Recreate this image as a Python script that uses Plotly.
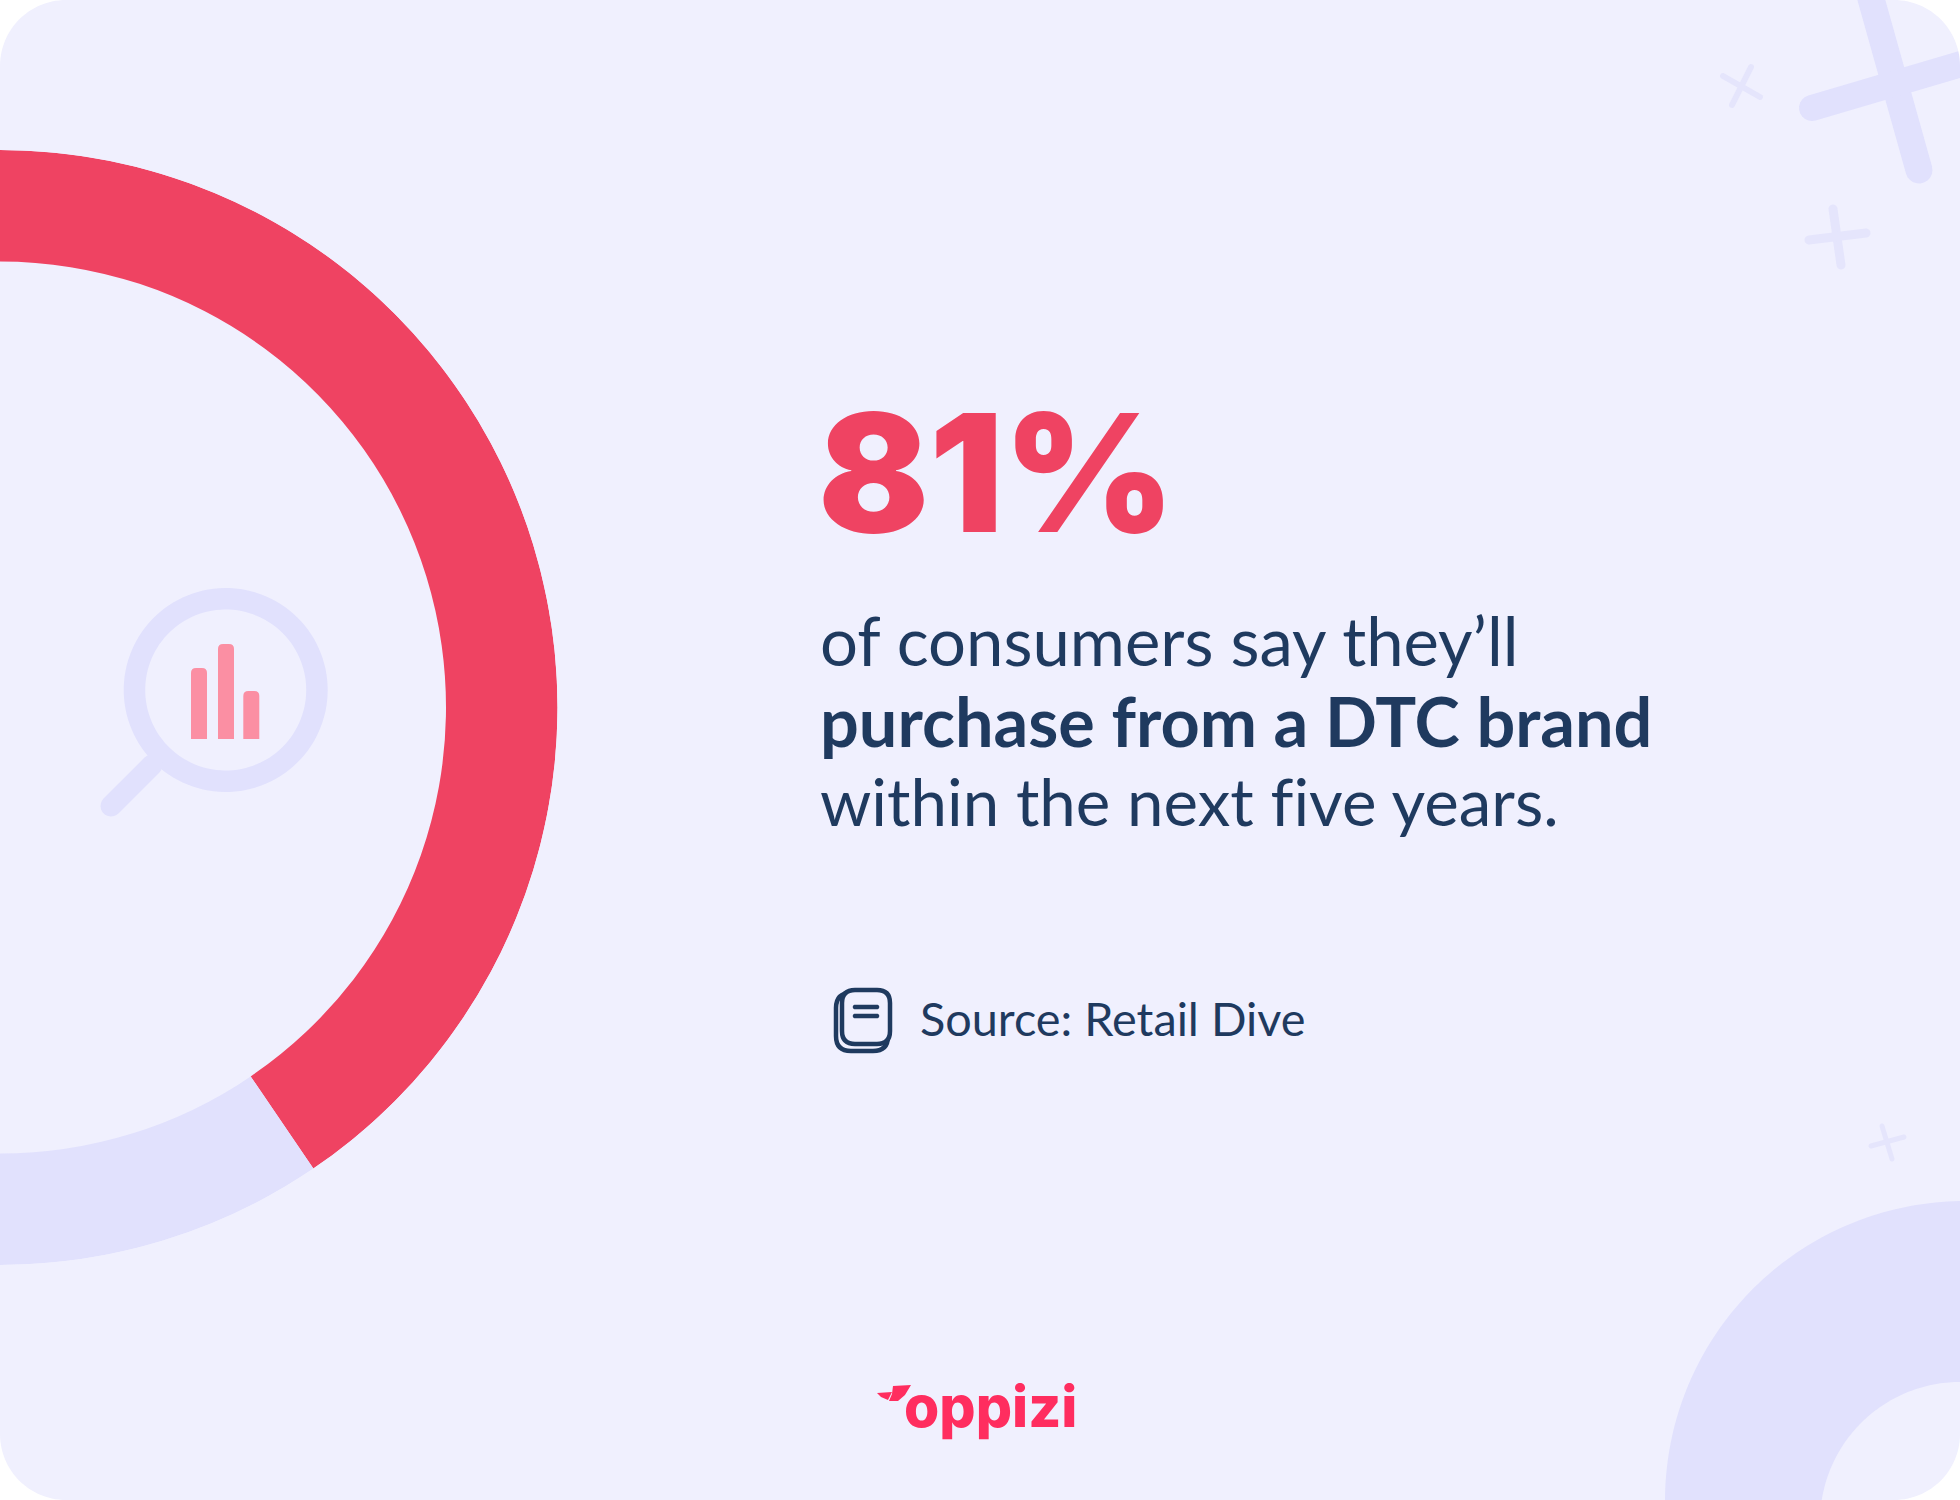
import numpy as np
import plotly.graph_objects as go

# half donut: the two shares of the visible half ring
labels = ["Will purchase", "Will not"]
shares = [81, 19]

W, H = 1960, 1500
BG = "#f0f0fe"
LILAC = "#e1e1fd"
RED = "#ef4362"
NAVY = "#1f3a5f"
PINK = "#ff2d5f"

# ring geometry in px
cy, R, r = 707.5, 557.5, 446


def px(x):
    return x / W


def py(y):
    return 1 - y / H


def poly(points):
    return "M " + " L ".join(f"{px(x):.5f},{py(y):.5f}" for x, y in points) + " Z"


def capsule(x0, y0, x1, y1, w):
    # bar with round ends
    a = np.arctan2(y1 - y0, x1 - x0)
    t = np.linspace(np.pi / 2, 3 * np.pi / 2, 12)
    pts = [(x0 + w / 2 * np.cos(a + v), y0 + w / 2 * np.sin(a + v)) for v in t]
    pts += [(x1 + w / 2 * np.cos(a + v - np.pi), y1 + w / 2 * np.sin(a + v - np.pi)) for v in t]
    return poly(pts)


def round_rect(x0, y0, x1, y1, rad):
    return (
        f"M {px(x0 + rad)},{py(y0)} L {px(x1 - rad)},{py(y0)} Q {px(x1)},{py(y0)} {px(x1)},{py(y0 + rad)} "
        f"L {px(x1)},{py(y1 - rad)} Q {px(x1)},{py(y1)} {px(x1 - rad)},{py(y1)} "
        f"L {px(x0 + rad)},{py(y1)} Q {px(x0)},{py(y1)} {px(x0)},{py(y1 - rad)} "
        f"L {px(x0)},{py(y0 + rad)} Q {px(x0)},{py(y0)} {px(x0 + rad)},{py(y0)} Z"
    )


def top_round_bar(x0, x1, top, bottom, rad):
    return (
        f"M {px(x0)},{py(bottom)} L {px(x0)},{py(top + rad)} Q {px(x0)},{py(top)} {px(x0 + rad)},{py(top)} "
        f"L {px(x1 - rad)},{py(top)} Q {px(x1)},{py(top)} {px(x1)},{py(top + rad)} L {px(x1)},{py(bottom)} Z"
    )


def arc_pts(cx, cy_, rad, a0, a1, n=80):
    t = np.radians(np.linspace(a0, a1, n))
    return [(cx + rad * np.cos(v), cy_ + rad * np.sin(v)) for v in t]


def fill(path, color):
    return dict(type="path", xref="paper", yref="paper", path=path, fillcolor=color, line=dict(width=0))


def stroke(path, color, width):
    return dict(type="path", xref="paper", yref="paper", path=path, line=dict(color=color, width=width))


def corner(cx, cy_, x, y, a0, a1):
    return fill(poly([(x, y)] + arc_pts(cx, cy_, 66, a0, a1, 30)), "#ffffff")


shapes = []
# corner decoration
shapes.append(fill(poly(arc_pts(1965, 1501, 300, 180, 270) + [(1960, 1201), (1960, 1500)]), LILAC))
shapes.append(fill(poly(arc_pts(1960, 1522, 140, 180, 270) + [(1960, 1500)]), BG))
shapes.append(fill(capsule(1868, -12, 1919, 170, 27), LILAC))
shapes.append(fill(capsule(1812, 108, 1975, 60, 26), LILAC))
shapes.append(fill(capsule(1723, 76, 1760, 97, 6), "#e5e5fc"))
shapes.append(fill(capsule(1751, 67, 1732, 105, 6), "#e5e5fc"))
shapes.append(fill(capsule(1833, 209, 1841, 265, 9), "#e5e5fc"))
shapes.append(fill(capsule(1809, 240, 1866, 233, 9), "#e5e5fc"))
shapes.append(fill(capsule(1882, 1126, 1892, 1159, 5), "#e5e5fc"))
shapes.append(fill(capsule(1871, 1146, 1904, 1137, 5), "#e5e5fc"))

# magnifier icon
shapes.append(fill(poly(arc_pts(225.7, 690, 102, 0, 360, 120) + arc_pts(225.7, 690, 80.5, 360, 0, 120)), LILAC))
shapes.append(fill(capsule(152, 765, 111, 806, 21), LILAC))
for x0, top in [(191, 668), (218, 644), (243.3, 691)]:
    shapes.append(fill(top_round_bar(x0, x0 + 16, top, 739, 5), "#fb8fa3"))

# source icon
shapes.append(stroke(round_rect(836, 993, 888, 1051, 15), NAVY, 4.5))
shapes.append(fill(round_rect(842, 990, 890, 1044, 13), BG))
shapes.append(stroke(round_rect(842, 990, 890, 1044, 13), NAVY, 4.5))
shapes.append(fill(capsule(855, 1007, 877, 1007, 4.5), NAVY))
shapes.append(fill(capsule(855, 1016, 877, 1016, 4.5), NAVY))

# logo bird
shapes.append(fill(poly([(877, 1393), (892, 1392), (888, 1400), (881, 1397)]), PINK))
shapes.append(fill(poly([(893, 1386), (911, 1385), (905, 1395), (898, 1401), (889, 1401), (892, 1394)]), PINK))

# white card corners
shapes.append(corner(66, 66, 0, 0, 180, 270))
shapes.append(corner(W - 66, 66, W, 0, 270, 360))
shapes.append(corner(W - 66, H - 66, W, H, 0, 90))
shapes.append(corner(66, H - 66, 0, H, 90, 180))


def label(text, x, y, size, color, family="Lato", weight=400):
    return dict(
        text=text, x=px(x), y=py(y), xref="paper", yref="paper", xanchor="left", yanchor="middle",
        showarrow=False, borderpad=0,
        font=dict(family=family, size=size, color=color, weight=weight),
    )


annotations = [
    label("81%", 817, 472, 164, RED, "Inter", 900),
    label("of consumers say they’ll", 819, 640, 67, NAVY, "Lato", 400),
    label("purchase from a DTC brand", 819, 720, 68.4, NAVY, "Lato", 700),
    label("within the next f\u200cive years.", 819, 800, 65.4, NAVY, "Lato", 400),
    label("Source: Retail Dive", 919, 1018, 46.8, NAVY, "Lato", 400),
    label("oppizi", 903, 1406, 57, PINK, "Inter", 800),
]

# each slice is placed from its running share, 100% being the half ring
ends = np.cumsum(shares)
widths = [v * 180 / 100 for v in shares]
thetas = [(e - v / 2) * 180 / 100 for e, v in zip(ends, shares)]

fig = go.Figure(go.Barpolar(
    r=[R - r] * len(shares),
    base=[r] * len(shares),
    theta=thetas,
    width=widths,
    text=labels,
    marker=dict(color=[RED, LILAC], line=dict(width=0)),
    hoverinfo="text",
))

fig.update_layout(
    width=W,
    height=H,
    margin=dict(l=0, r=0, t=0, b=0),
    paper_bgcolor=BG,
    showlegend=False,
    polar=dict(
        domain=dict(x=[0, R / W], y=[py(cy + R), py(cy - R)]),
        sector=[-90, 90],
        bgcolor="rgba(0,0,0,0)",
        radialaxis=dict(visible=False, range=[0, R]),
        angularaxis=dict(visible=False, rotation=90, direction="clockwise"),
    ),
    shapes=shapes,
    annotations=annotations,
)

fig.write_html(
    "out.html",
    config=dict(displayModeBar=False),
    post_script="document.body.style.margin='0';document.body.style.overflow='hidden';",
)
